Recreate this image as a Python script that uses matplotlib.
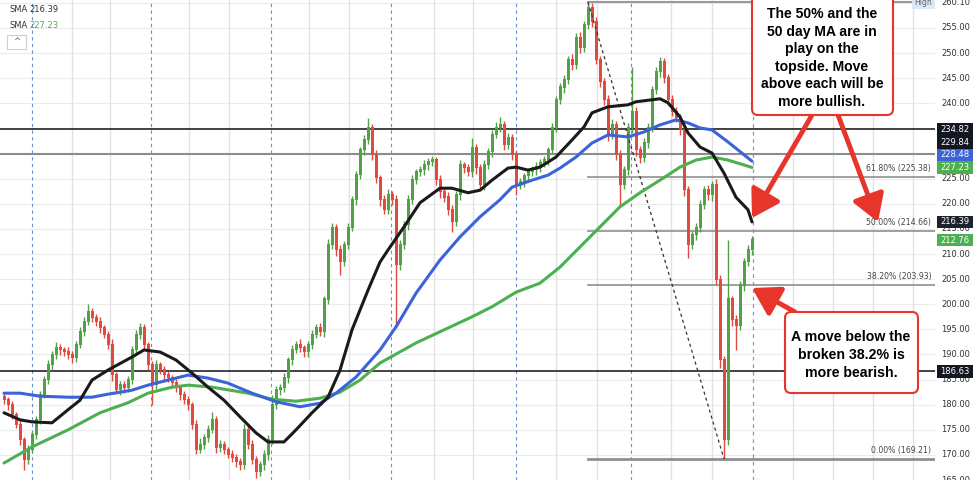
import numpy as np
import matplotlib.pyplot as plt
from matplotlib.patches import Rectangle, FancyBboxPatch
from matplotlib.transforms import blended_transform_factory

# daily closes (one bar every ~4 px)
closes = [
    180.9, 179.9, 177.9, 176.0, 173.0, 169.0, 171.0, 174.0, 177.0, 181.9,
    184.9, 187.9, 189.9, 191.3, 190.9, 190.5, 189.9, 189.3, 191.9, 194.5,
    196.5, 198.5, 197.3, 196.5, 195.3, 193.9, 191.9, 185.9, 182.9, 183.9,
    183.3, 184.9, 190.9, 193.9, 195.3, 191.9, 187.9, 183.9, 187.9, 186.9,
    185.9, 185.3, 184.3, 183.3, 181.9, 180.9, 179.9, 176.0, 171.0, 172.0,
    173.4, 175.0, 177.0, 171.4, 172.0, 171.0, 170.0, 169.4, 168.6, 168.0,
    175.0, 172.0, 169.0, 166.6, 168.0, 170.0, 173.0, 179.9, 182.9, 183.3,
    185.3, 188.9, 190.9, 191.9, 191.3, 190.5, 191.9, 193.9, 195.3, 194.5,
    200.9, 211.8, 215.2, 210.8, 208.4, 211.8, 215.2, 220.8, 225.7, 230.7,
    232.7, 235.1, 229.7, 225.1, 220.8, 218.8, 221.7, 220.8, 207.8, 211.8,
    215.8, 220.8, 224.7, 226.3, 226.7, 227.7, 228.3, 228.7, 224.7, 222.3,
    221.2, 218.8, 216.4, 221.7, 227.7, 227.1, 226.3, 231.1, 227.1, 223.7,
    227.7, 230.3, 233.7, 235.1, 235.7, 231.7, 233.1, 229.7, 223.7, 224.3,
    225.5, 226.3, 226.7, 227.3, 228.1, 228.7, 230.7, 235.1, 240.7, 243.1,
    244.6, 248.6, 247.6, 253.0, 251.0, 255.6, 259.0, 256.2, 248.6, 244.2,
    240.7, 233.7, 235.7, 229.7, 223.7, 226.7, 235.1, 238.3, 230.7, 229.1,
    232.1, 235.1, 242.6, 246.2, 248.2, 245.0, 240.7, 238.3, 237.1, 234.7,
    222.7, 211.8, 213.8, 215.2, 219.8, 222.7, 221.7, 223.7, 204.8, 188.9,
    173.0, 200.9, 196.9, 195.7, 203.7, 208.4, 210.8, 212.76,
]
first_open = 181.5

up_wick = [
    0.8, 0.6, 0.8, 0.7, 0.9, 0.6, 1.0, 0.8, 0.7, 0.9,
    0.8, 1.0, 0.7, 1.2, 0.8, 0.6, 0.9, 0.8, 0.7, 1.0,
    0.9, 1.5, 0.8, 0.7, 0.9, 0.6, 0.8, 1.2, 0.7, 0.8,
    0.9, 0.8, 0.7, 0.9, 1.0, 0.8, 0.6, 0.9, 1.0, 0.7,
    0.8, 0.9, 0.7, 0.8, 0.6, 0.9, 0.8, 0.7, 0.9, 1.4,
    0.8, 1.0, 1.6, 0.7, 0.9, 0.8, 0.6, 0.9, 0.7, 0.8,
    1.2, 0.8, 0.9, 0.7, 0.8, 1.0, 0.9, 2.0, 0.8, 0.9,
    1.0, 0.7, 0.9, 0.8, 1.1, 0.6, 0.8, 0.9, 0.7, 1.0,
    0.8, 1.2, 1.0, 0.8, 0.9, 0.7, 1.0, 0.8, 0.9, 0.7,
    0.9, 2.0, 0.8, 1.0, 0.7, 0.9, 1.2, 0.8, 0.9, 1.0,
    0.8, 0.9, 1.1, 0.7, 0.8, 1.0, 0.9, 0.8, 0.7, 1.0,
    0.8, 1.2, 0.9, 0.8, 1.0, 0.7, 0.9, 2.0, 0.8, 0.9,
    1.0, 0.8, 0.9, 1.2, 1.5, 0.8, 1.0, 0.7, 0.9, 0.8,
    0.7, 0.9, 0.8, 1.0, 0.8, 0.9, 0.7, 1.0, 0.8, 0.9,
    1.0, 0.8, 1.2, 0.9, 1.1, 0.8, 1.1, 0.9, 1.0, 0.8,
    0.9, 1.0, 1.2, 0.8, 1.0, 0.9, 1.0, 8.9, 0.9, 0.8,
    1.0, 0.9, 0.8, 1.0, 1.0, 0.9, 0.8, 1.0, 0.9, 0.8,
    1.0, 0.9, 0.8, 1.0, 0.9, 0.8, 1.0, 0.9, 1.2, 1.0,
    0.9, 11.9, 0.8, 1.0, 0.9, 0.8, 0.9, 0.8,
]
dn_wick = [
    0.7, 0.9, 0.8, 0.6, 1.0, 2.0, 0.8, 0.7, 0.9, 0.8,
    0.6, 0.8, 0.9, 0.7, 1.0, 0.8, 0.7, 0.9, 0.8, 0.6,
    0.8, 0.7, 0.9, 0.8, 1.0, 0.7, 0.9, 1.1, 0.8, 0.9,
    1.0, 0.8, 0.7, 0.9, 0.8, 1.0, 0.9, 4.0, 0.8, 0.7,
    0.9, 0.8, 1.0, 0.7, 0.9, 0.8, 1.0, 0.9, 0.8, 0.7,
    0.9, 0.8, 0.7, 1.0, 0.8, 0.9, 0.7, 0.8, 1.0, 0.9,
    0.8, 0.9, 0.7, 1.2, 0.8, 0.9, 1.0, 0.8, 0.7, 0.9,
    0.8, 1.0, 0.9, 0.7, 0.8, 1.0, 0.9, 0.8, 0.7, 0.9,
    1.0, 0.8, 0.9, 1.1, 2.6, 0.8, 0.9, 0.7, 1.0, 0.8,
    0.9, 0.8, 1.0, 0.9, 1.2, 0.8, 0.9, 1.0, 12.3, 0.9,
    0.8, 1.0, 0.9, 0.7, 0.8, 0.9, 1.0, 0.8, 0.9, 1.1,
    0.9, 1.0, 2.0, 0.8, 0.9, 1.0, 0.8, 0.9, 1.2, 0.8,
    0.9, 0.8, 1.0, 0.7, 0.9, 1.0, 0.8, 0.9, 2.0, 0.8,
    0.9, 0.7, 0.8, 1.0, 0.9, 0.8, 1.0, 0.7, 0.9, 0.8,
    1.0, 0.8, 0.9, 0.7, 1.0, 0.8, 0.9, 1.0, 0.8, 0.9,
    1.0, 1.2, 0.9, 1.0, 4.3, 0.8, 0.9, 1.0, 1.1, 0.9,
    0.8, 1.0, 0.9, 0.8, 1.0, 0.9, 1.0, 0.8, 0.9, 1.0,
    1.1, 2.6, 0.9, 1.0, 0.8, 0.9, 1.0, 1.2, 1.0, 1.5,
    3.79, 1.0, 1.2, 4.8, 0.9, 1.0, 0.8, 0.9,
]

# moving averages, sampled along the curves (bar index, price)
sma50_bar = [0, 4, 7, 12, 16, 19, 22, 26, 32, 35, 39, 43, 47, 51, 55, 59, 63, 66,
             70, 73, 77, 81, 84, 87, 91, 94, 96, 100, 104, 109, 112, 116, 119, 122,
             126, 128, 131, 134, 138, 142, 145, 147, 151, 156, 158, 164, 166, 169,
             171, 174, 177, 180, 183, 186, 187]
sma50 = [178.4, 177.0, 176.6, 176.4, 179.0, 180.9, 184.9, 186.9, 189.5, 190.9, 190.5,
         188.9, 186.3, 183.5, 180.9, 177.6, 174.4, 172.6, 172.6, 175.0, 178.4, 181.5,
         186.9, 194.9, 202.8, 208.4, 210.8, 215.4, 220.2, 223.1, 223.1, 222.2, 222.7,
         224.7, 227.1, 227.3, 226.7, 227.3, 229.3, 232.7, 235.3, 238.1, 239.3, 239.7,
         240.3, 240.9, 240.1, 237.3, 234.1, 231.3, 230.1, 226.1, 221.3, 218.8, 216.39]

sma100_bar = [0, 4, 9, 16, 22, 26, 32, 36, 41, 46, 51, 56, 62, 68, 74, 79, 83, 88, 94,
              98, 103, 109, 114, 119, 124, 127, 132, 136, 139, 143, 147, 151, 156, 160,
              164, 168, 171, 174, 177, 181, 187]
sma100 = [182.3, 182.3, 181.7, 181.5, 181.5, 182.1, 182.9, 183.9, 184.9, 185.9, 185.3,
          184.3, 182.3, 180.6, 179.6, 180.3, 182.3, 185.5, 190.9, 195.5, 202.2, 208.8,
          213.4, 217.4, 220.8, 223.3, 224.7, 225.7, 227.1, 229.3, 232.1, 233.7, 233.3,
          234.3, 235.7, 236.7, 236.1, 235.1, 234.7, 232.3, 228.48]

sma200_bar = [0, 7, 16, 24, 31, 36, 42, 46, 52, 61, 67, 73, 79, 84, 89, 94, 103, 110,
              117, 122, 128, 134, 139, 144, 149, 154, 159, 164, 169, 173, 177, 181, 187]
sma200 = [168.4, 171.6, 175.0, 178.4, 180.4, 182.3, 183.5, 183.9, 183.5, 182.3, 181.1,
          180.7, 181.3, 182.5, 184.9, 188.3, 192.3, 194.9, 197.5, 199.5, 202.4, 204.2,
          207.4, 211.4, 215.4, 219.4, 222.2, 224.7, 227.3, 228.7, 229.3, 228.7, 227.23]

swing_high = 260.10
swing_low = 169.21
high_bar = 146
low_bar = 180
fib_levels = [169.21, 203.93, 214.66, 225.38]
fib_names = ["0.00%", "38.20%", "50.00%", "61.80%"]

level_lines = [234.82, 186.63]
level_grey = 229.84
last_price = 212.76

price_tags = [186.63, 212.76, 216.39, 227.23, 228.48, 229.84, 234.82]
tag_colors = ["#131722", "#4caf50", "#1e222d", "#4caf50", "#3c63d8", "#131722", "#131722"]

grid_bars = [17, 26.5, 46.25, 56.25, 76.25, 86.25, 107.5, 117.25, 138, 148.25,
             166.75, 177, 197.25, 207.25, 217.25, 227.25]
dashed_bars = [7, 36.75, 66.75, 96.75, 128, 156.75]
current_bar = 187.25

GREEN = "#53a146"
RED = "#e04a3f"
ARROW = "#e8352b"

W, H = 975, 480
YMIN, YMAX = 165.02, 260.56
PX_PER_UNIT = H / (YMAX - YMIN)


def draw_candles(ax):
    c = np.array(closes)
    o = np.array([first_open] + closes[:-1])
    hi = np.maximum(o, c) + np.array(up_wick)
    lo = np.minimum(o, c) - np.array(dn_wick)
    lo[low_bar] = swing_low
    hi[high_bar] = swing_high
    idx = np.arange(len(c))
    cols = np.where(c >= o, GREEN, RED)
    ax.vlines(idx, lo, hi, colors=cols, lw=1.0, zorder=2)
    ax.bar(idx, np.abs(c - o) + 0.25, bottom=np.minimum(o, c), width=0.75,
           color=cols, linewidth=0, zorder=2)


def main():
    fig = plt.figure(figsize=(W / 100, H / 100), dpi=100)
    ax = fig.add_axes([0, 0, 935 / W, 1])
    ax.set_xlim(-1, 232.75)
    ax.set_ylim(YMIN, YMAX)
    ax.axis("off")

    for p in np.arange(165, 261, 5):
        ax.axhline(p, color="#ececec", lw=0.8, zorder=0)
    for b in grid_bars:
        ax.axvline(b, color="#e2e2e2", lw=1.0, zorder=0)
    for b in dashed_bars:
        ax.axvline(b, color="#6d8fd0", lw=0.8, ls=(0, (3, 3)), zorder=0.5)
    ax.axvline(current_bar, color="#b47fd8", lw=0.9, ls=(0, (3, 3)), zorder=0.5)

    for p in level_lines:
        ax.axhline(p, color="#111111", lw=1.1, zorder=1.5)
    ax.axhline(level_grey, color="#8c8c8c", lw=1.5, zorder=1.5)

    # fibonacci retracement
    ax.plot([high_bar, 227], [swing_high, swing_high], color="#9a9a9a", lw=1.5, zorder=1.5)
    for lvl, name in zip(fib_levels, fib_names):
        lw = 2.0 if name == "0.00%" else 1.2
        ax.plot([high_bar, 232.75], [lvl, lvl], color="#8f8f8f", lw=lw, zorder=1.5)
        ax.text(231.8, lvl + 0.7, f"{name} ({lvl:.2f})", ha="right", va="bottom",
                fontsize=5.6, color="#444444", zorder=4)
    ax.plot([high_bar, low_bar], [swing_high, swing_low], color="#333333", lw=0.9,
            ls=(0, (2.5, 2.5)), zorder=2.5)

    draw_candles(ax)

    ax.plot(sma200_bar, sma200, color="#4caf50", lw=2.2, zorder=3, solid_capstyle="round")
    ax.plot(sma100_bar, sma100, color="#3c63d8", lw=2.2, zorder=3, solid_capstyle="round")
    ax.plot(sma50_bar, sma50, color="#1a1a1a", lw=2.2, zorder=3, solid_capstyle="round")

    # right price scale
    tr = blended_transform_factory(fig.transFigure, ax.transData)
    for p in np.arange(165, 256, 5):
        ax.text(956 / W, p, f"{p:.2f}", transform=tr, ha="center", va="center",
                fontsize=6, color="#333333", clip_on=False)
    ax.text(956 / W, swing_high, f"{swing_high:.2f}", transform=tr, ha="center",
            va="center", fontsize=6, color="#333333", clip_on=False)
    ax.add_patch(Rectangle((912 / W, swing_high - 1.3), 23 / W, 2.6, transform=tr,
                           facecolor="#dbe8f7", edgecolor="none", clip_on=False, zorder=5))
    ax.text(923 / W, swing_high, "High", transform=tr, ha="center", va="center",
            fontsize=5.5, color="#666666", clip_on=False, zorder=6)

    gap = 12.5 / PX_PER_UNIT
    shown = []
    prev = -1e9
    for p in price_tags:
        d = max(p, prev + gap)
        shown.append(d)
        prev = d
    for p, d, col in zip(price_tags, shown, tag_colors):
        ax.add_patch(Rectangle((937 / W, d - gap / 2), 36 / W, gap, transform=tr,
                               facecolor=col, edgecolor="none", clip_on=False, zorder=5))
        ax.text(955 / W, d, f"{p:.2f}", transform=tr, ha="center", va="center",
                fontsize=6, color="white", clip_on=False, zorder=6)

    # legend in the top-left corner
    fig.text(10 / W, 1 - 10 / H, "SMA", fontsize=6, color="#333333", va="center")
    fig.text(29 / W, 1 - 10 / H, "216.39", fontsize=6, color="#333333", va="center")
    fig.text(10 / W, 1 - 25 / H, "SMA", fontsize=6, color="#333333", va="center")
    fig.text(29 / W, 1 - 25 / H, "227.23", fontsize=6, color="#4caf50", va="center")
    fig.add_artist(Rectangle((7 / W, 1 - 49 / H), 19 / W, 14 / H, transform=fig.transFigure,
                             facecolor="white", edgecolor="#d0d0d0", lw=0.8))
    fig.text(16.5 / W, 1 - 41 / H, "^", fontsize=6, color="#555555", ha="center", va="center")

    # annotation boxes
    box1 = FancyBboxPatch((752, H - 115), 141, 125, boxstyle="round,pad=0,rounding_size=6",
                          transform=None, facecolor="white", edgecolor=ARROW, lw=1.5, zorder=7)
    fig.add_artist(box1)
    lines1 = ["The 50% and the", "50 day MA are in", "play on the", "topside. Move",
              "above each will be", "more bullish."]
    for k, s in enumerate(lines1):
        fig.text(822 / W, 1 - (14 + 17.6 * k) / H, s, ha="center", va="center",
                 fontsize=10.1, fontweight="bold", family="Liberation Sans", zorder=8)

    box2 = FancyBboxPatch((785, H - 393), 133, 81, boxstyle="round,pad=0,rounding_size=6",
                          transform=None, facecolor="white", edgecolor=ARROW, lw=1.5, zorder=7)
    fig.add_artist(box2)
    lines2 = ["A move below the", "broken 38.2% is", "more bearish."]
    for k, s in enumerate(lines2):
        fig.text(851 / W, 1 - (337 + 18 * k) / H, s, ha="center", va="center",
                 fontsize=10.2, fontweight="bold", family="Liberation Sans", zorder=8)

    arrow = dict(arrowstyle="-|>,head_length=0.9,head_width=0.55", lw=3.5, color=ARROW,
                 mutation_scale=18, shrinkA=0, shrinkB=0)
    ax.annotate("", xy=(752, H - 218), xytext=(812, H - 115), xycoords="figure pixels",
                textcoords="figure pixels", arrowprops=arrow, zorder=9)
    ax.annotate("", xy=(878, H - 222), xytext=(838, H - 115), xycoords="figure pixels",
                textcoords="figure pixels", arrowprops=arrow, zorder=9)
    ax.annotate("", xy=(752, H - 288), xytext=(795, H - 312), xycoords="figure pixels",
                textcoords="figure pixels", arrowprops=arrow, zorder=9)

    fig.savefig("out.png", dpi=100)


if __name__ == "__main__":
    main()
